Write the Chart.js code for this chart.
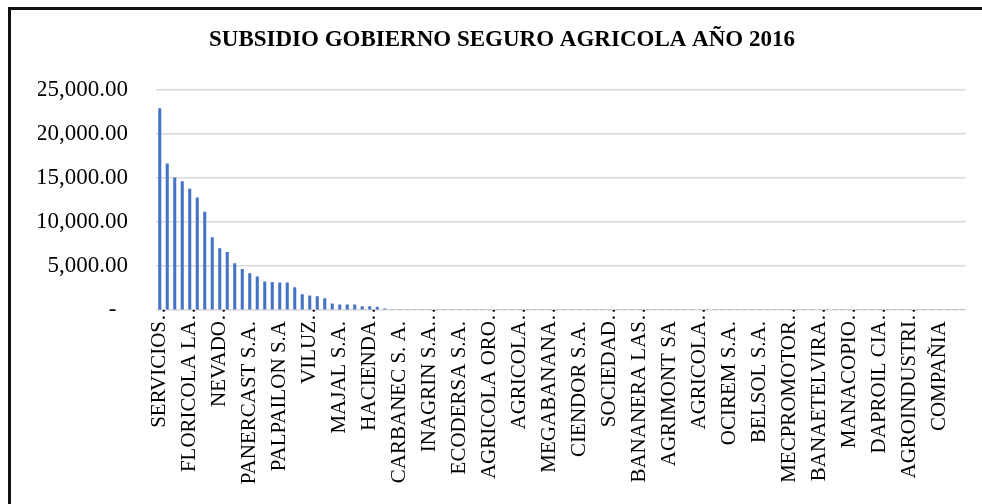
<!DOCTYPE html>
<html>
<head>
<meta charset="utf-8">
<script src="https://cdn.jsdelivr.net/npm/chart.js@4/dist/chart.umd.min.js"></script>
<style>
    html, body { margin: 0; padding: 0; background: #fff; }
    body { width: 982px; height: 504px; position: relative; overflow: hidden; }
    #frame { position: absolute; left: 8px; top: 7px; width: 1000px; height: 520px;
             border-left: 3px solid #111; border-top: 3px solid #111; }
    #chart { position: absolute; left: 0; top: 0; }
</style>
</head>
<body>
<div id="frame"></div>
<canvas id="chart" width="982" height="504"></canvas>
<script>
document.addEventListener('DOMContentLoaded', function () {

    const chartTitle = 'SUBSIDIO GOBIERNO SEGURO AGRICOLA AÑO 2016';

    // nombres que se ven en el eje (uno de cada 4 categorías)
    const shownNames = [
        'SERVICIOS…', 'FLORICOLA LA…', 'NEVADO…', 'PANERCAST S.A.', 'PALPAILON S.A',
        'VILUZ…', 'MAJAL S.A.', 'HACIENDA…', 'CARBANEC S. A.', 'INAGRIN S.A.…',
        'ECODERSA S.A.', 'AGRICOLA ORO…', 'AGRICOLA…', 'MEGABANANA…', 'CIENDOR S.A.',
        'SOCIEDAD…', 'BANANERA LAS…', 'AGRIMONT SA', 'AGRICOLA…', 'OCIREM S.A.',
        'BELSOL S.A.', 'MECPROMOTOR…', 'BANAETELVIRA…', 'MANACOPIO…', 'DAPROIL CIA…',
        'AGROINDUSTRI…', 'COMPAÑIA'
    ];

    // subsidio por empresa
    const subsidyValues = [
        22840, 16590, 15000, 14580, 13710, 12730, 11100, 8220, 6970, 6550,
        5270, 4620, 4130, 3750, 3200, 3140, 3070, 3070, 2550, 1740,
        1610, 1510, 1290, 700, 590, 590, 590, 400, 400, 340,
        130, 0, 0, 0, 0, 0, 0, 0, 0, 0,
        0, 0, 0, 0, 0, 0, 0, 0, 0, 0,
        0, 0, 0, 0, 0, 0, 0, 0, 0, 0,
        0, 0, 0, 0, 0, 0, 0, 0, 0, 0,
        0, 0, 0, 0, 0, 0, 0, 0, 0, 0,
        0, 0, 0, 0, 0, 0, 0, 0, 0, 0,
        0, 0, 0, 0, 0, 0, 0, 0, 0, 0,
        0, 0, 0, 0, 0, 0, 0, 0
    ];

    const yTicks = [0, 5000, 10000, 15000, 20000, 25000];

    const categories = subsidyValues.map((v, i) => (i % 4 === 0 ? (shownNames[i / 4] || '') : ''));

    const serif = 'Liberation Serif';

    new Chart(document.getElementById('chart'), {
        type: 'bar',
        data: {
            labels: categories,
            datasets: [{
                label: 'Subsidio',
                data: subsidyValues,
                backgroundColor: '#4472C4',
                barThickness: 2.4
            }]
        },
        options: {
            responsive: false,
            animation: false,
            layout: { padding: { left: 38, right: 16, top: 20, bottom: 0 } },
            plugins: {
                legend: { display: false },
                tooltip: { enabled: false },
                title: {
                    display: true,
                    text: chartTitle,
                    color: '#000',
                    font: { family: serif, size: 23, weight: 'bold' },
                    padding: { top: 6, bottom: 36 }
                }
            },
            scales: {
                x: {
                    grid: { display: false, drawTicks: false },
                    border: { display: false },
                    ticks: {
                        autoSkip: false,
                        minRotation: 90,
                        maxRotation: 90,
                        padding: -10,
                        color: '#000',
                        font: { family: serif, size: 21 },
                        // los textos sin "…" llevan un espacio para alinearse como en Excel
                        callback: function (value, index) {
                            const name = categories[index];
                            if (!name) return '';
                            return name.endsWith('…') ? name : name + '\u2003';
                        }
                    },
                    afterFit: scale => { scale.height = 194; }
                },
                y: {
                    min: yTicks[0],
                    max: yTicks[yTicks.length - 1],
                    grid: { color: '#d9d9d9', lineWidth: 1.5, drawTicks: false },
                    border: { display: false },
                    ticks: {
                        stepSize: 5000,
                        padding: 28,
                        color: '#000',
                        font: { family: serif, size: 23 },
                        callback: function (value) {
                            if (value === 0) return '-\u2002';
                            return value.toLocaleString('en-US', { minimumFractionDigits: 2, maximumFractionDigits: 2 });
                        }
                    },
                    afterFit: scale => { scale.width = 118; }
                }
            }
        }
    });

});
</script>
</body>
</html>
